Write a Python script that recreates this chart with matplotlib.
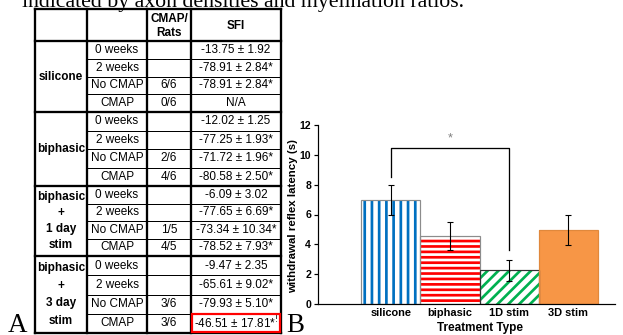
import numpy as np
import matplotlib
matplotlib.use("Agg")
import matplotlib.pyplot as plt

DPI = 130
W, H = 623, 335


def pt(px):
    # pixel size -> points at the figure dpi
    return px * 72 / DPI


plt.rcParams['font.family'] = ['Liberation Sans', 'DejaVu Sans']
plt.rcParams['hatch.linewidth'] = pt(2.7)

# ---- table data (panel A) ----
groups = ["silicone", "biphasic", "biphasic\n+\n1 day\nstim", "biphasic\n+\n3 day\nstim"]
timepoints = ["0 weeks", "2 weeks", "No CMAP", "CMAP"]
cmap_rats = [["", "", "6/6", "0/6"],
             ["", "", "2/6", "4/6"],
             ["", "", "1/5", "4/5"],
             ["", "", "3/6", "3/6"]]
sfi = [["-13.75 ± 1.92", "-78.91 ± 2.84*", "-78.91 ± 2.84*", "N/A"],
       ["-12.02 ± 1.25", "-77.25 ± 1.93*", "-71.72 ± 1.96*", "-80.58 ± 2.50*"],
       ["-6.09 ± 3.02", "-77.65 ± 6.69*", "-73.34 ± 10.34*", "-78.52 ± 7.93*"],
       ["-9.47 ± 2.35", "-65.61 ± 9.02*", "-79.93 ± 5.10*", "-46.51 ± 17.81*$^{!}$"]]
headers = ["", "", "CMAP/\nRats", "SFI"]

# ---- bar chart data (panel B) ----
treatments = ["silicone", "biphasic", "1D stim", "3D stim"]
latency = [7.0, 4.55, 2.25, 4.95]
latency_err = [1.0, 0.92, 0.72, 1.02]
sig_pair = [0, 2]
sig_levels = [8.5, 10.45, 3.6]   # left foot, top, right foot
sig_star_y = 11.1

fig = plt.figure(figsize=(W / DPI, H / DPI), dpi=DPI)

# full-figure axes in pixel units for the table and loose text
axt = fig.add_axes([0, 0, 1, 1])
axt.set_xlim(0, W)
axt.set_ylim(H, 0)
axt.axis('off')

fig.text(22 / W, 1 - 7 / H, "indicated by axon densities and myelination ratios.",
         family=['Liberation Serif'], fontsize=pt(21.8), va='baseline')

col_x = [35, 87, 147, 191, 281]
top, head_bot = 9, 41
grp_y = [41, 112, 186, 256, 333]
thick, thin = pt(2.3), pt(1.0)
fs = pt(11.8)

# vertical rules
for x in col_x:
    axt.plot([x, x], [top, grp_y[-1]], color='black', lw=thick, solid_capstyle='projecting')
# horizontal rules
for y in [top, head_bot] + grp_y[1:]:
    axt.plot([col_x[0], col_x[-1]], [y, y], color='black', lw=thick, solid_capstyle='projecting')

centers = [(col_x[i] + col_x[i + 1]) / 2 for i in range(4)]
axt.text(centers[2], (top + head_bot) / 2 + 1, headers[2], ha='center', va='center',
         fontsize=fs, weight='bold', linespacing=1.3)
axt.text(centers[3], (top + head_bot) / 2 + 1, headers[3], ha='center', va='center',
         fontsize=fs, weight='bold')

spacing = [1.2, 1.2, 1.45, 1.6]
for g, name in enumerate(groups):
    y0, y1 = grp_y[g], grp_y[g + 1]
    rh = (y1 - y0) / 4
    axt.text(centers[0], (y0 + y1) / 2, name, ha='center', va='center',
             fontsize=fs, weight='bold', linespacing=spacing[g])
    for r in range(4):
        yc = y0 + rh * (r + 0.5)
        if r > 0:
            axt.plot([col_x[1], col_x[-1]], [y0 + rh * r] * 2, color='black', lw=thin)
        axt.text(centers[1], yc, timepoints[r], ha='center', va='center', fontsize=fs)
        axt.text(centers[2], yc, cmap_rats[g][r], ha='center', va='center', fontsize=fs)
        axt.text(centers[3], yc, sfi[g][r], ha='center', va='center', fontsize=fs)

# highlighted last SFI cell
rh = (grp_y[4] - grp_y[3]) / 4
axt.add_patch(plt.Rectangle((col_x[3] + 1, grp_y[4] - rh), col_x[4] - col_x[3] - 2, rh - 1,
                            fill=False, edgecolor='#ff0000', lw=pt(2.2), zorder=5))

axt.text(8, 332, "A", family=['Liberation Serif'], fontsize=pt(27), va='baseline')
axt.text(286, 332, "B", family=['Liberation Serif'], fontsize=pt(27), va='baseline')

# ---- bar chart ----
ax = fig.add_axes([318 / W, (H - 304) / H, (615 - 318) / W, (304 - 125) / H])
ax.patch.set_alpha(0)
x = np.arange(len(treatments))

hatch_col = ['#0070c0', '#ff0000', '#00b050', '#f79646']
face_col = ['white', 'white', 'white', '#f79646']
hatches = ['|||', '----', '////', None]
outline = ['#8c8c8c', '#8c8c8c', '#333333', '#e0883c']

bars = ax.bar(x, latency, width=1.0, color=face_col, edgecolor=hatch_col, linewidth=0)
for b, h in zip(bars, hatches):
    if h:
        b.set_hatch(h)
ax.bar(x, latency, width=1.0, fill=False, edgecolor=outline, linewidth=pt(1.2))
ax.errorbar(x, latency, yerr=latency_err, fmt='none', ecolor='black',
            elinewidth=pt(1.1), capsize=pt(2.6), capthick=pt(1.1))

i0, i1 = sig_pair
ax.plot([x[i0], x[i0], x[i1], x[i1]],
        [sig_levels[0], sig_levels[1], sig_levels[1], sig_levels[2]],
        color='black', lw=pt(1.3))
ax.text((x[i0] + x[i1]) / 2, sig_star_y, "*", ha='center', va='center',
        color='#808080', fontsize=pt(13))

ax.set_xlim(-1.23, 3.79)
ax.set_ylim(0, 12)
ax.set_yticks(np.arange(0, 13, 2))
ax.set_xticks(x, treatments)
for s in ['top', 'right']:
    ax.spines[s].set_visible(False)
for s in ['left', 'bottom']:
    ax.spines[s].set_linewidth(pt(1.2))
ax.tick_params(axis='y', direction='out', length=pt(4), width=pt(1.2), pad=pt(3),
               labelsize=pt(10.5))
ax.tick_params(axis='x', length=0, pad=pt(4), labelsize=pt(11))
for lab in ax.get_xticklabels() + ax.get_yticklabels():
    lab.set_fontweight('bold')

ax.set_ylabel("withdrawal reflex latency (s)", fontsize=pt(11.5), weight='bold')
ax.yaxis.label.set_va('center')
ax.yaxis.set_label_coords(-0.084, 0.49)
ax.set_xlabel("Treatment Type", fontsize=pt(11.8), weight='bold')
ax.xaxis.label.set_va('center')
ax.xaxis.set_label_coords(0.545, -0.134)

fig.savefig("out.png", dpi=DPI)
